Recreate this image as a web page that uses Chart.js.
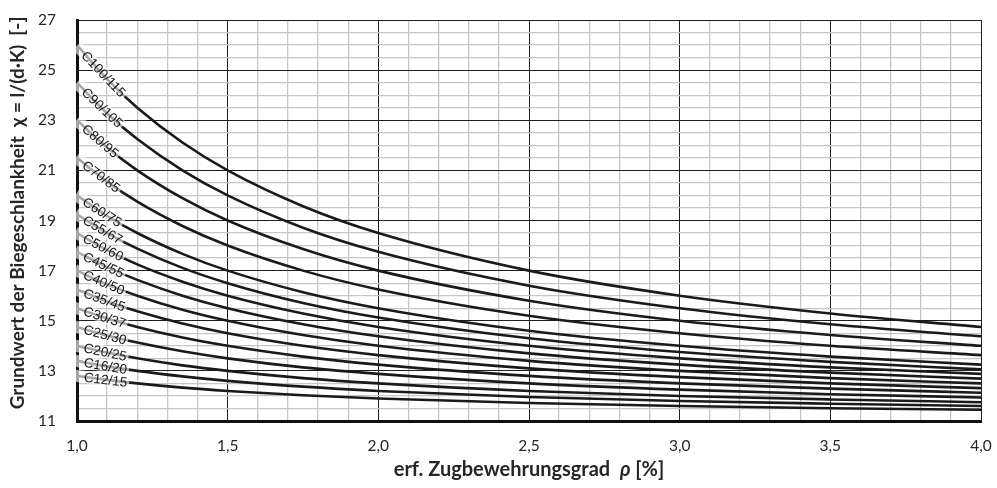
<!DOCTYPE html>
<html>
<head>
<meta charset="utf-8">
<script src="https://cdn.jsdelivr.net/npm/chart.js@4"></script>
<style>
  html, body { margin: 0; padding: 0; background: #fff; }
  #wrap { width: 997px; height: 488px; position: relative; }
</style>
</head>
<body>
<div id="wrap"><canvas id="chart"></canvas></div>
<script>
const RHO = [1.0, 1.1, 1.2, 1.35, 1.5, 1.75, 2.0, 2.5, 3.0, 3.5, 4.0];

// concrete classes, top curve first
const CLASSES = ['C100/115', 'C90/105', 'C80/95', 'C70/85', 'C60/75', 'C55/67', 'C50/60',
                 'C45/55', 'C40/50', 'C35/45', 'C30/37', 'C25/30', 'C20/25', 'C16/20', 'C12/15'];

// basic slenderness chi = l/(d*K) for each class
const C100_115 = [26.00, 24.64, 23.50, 22.11, 21.00, 19.57, 18.50, 17.00, 16.00, 15.29, 14.75];
const C90_105  = [24.50, 23.27, 22.25, 21.00, 20.00, 18.71, 17.75, 16.40, 15.50, 14.86, 14.38];
const C80_95   = [23.00, 21.91, 21.00, 19.89, 19.00, 17.86, 17.00, 15.80, 15.00, 14.43, 14.00];
const C70_85   = [21.50, 20.55, 19.75, 18.78, 18.00, 17.00, 16.25, 15.20, 14.50, 14.00, 13.63];
const C60_75   = [20.00, 19.18, 18.50, 17.67, 17.00, 16.14, 15.50, 14.60, 14.00, 13.57, 13.25];
const C55_67   = [19.25, 18.50, 17.88, 17.11, 16.50, 15.71, 15.13, 14.30, 13.75, 13.36, 13.06];
const C50_60   = [18.50, 17.82, 17.25, 16.56, 16.00, 15.29, 14.75, 14.00, 13.50, 13.14, 12.88];
const C45_55   = [17.75, 17.14, 16.63, 16.00, 15.50, 14.86, 14.38, 13.70, 13.25, 12.93, 12.69];
const C40_50   = [17.00, 16.45, 16.00, 15.44, 15.00, 14.43, 14.00, 13.40, 13.00, 12.71, 12.50];
const C35_45   = [16.25, 15.77, 15.38, 14.89, 14.50, 14.00, 13.63, 13.10, 12.75, 12.50, 12.31];
const C30_37   = [15.50, 15.09, 14.75, 14.33, 14.00, 13.57, 13.25, 12.80, 12.50, 12.29, 12.13];
const C25_30   = [14.75, 14.41, 14.13, 13.78, 13.50, 13.14, 12.88, 12.50, 12.25, 12.07, 11.94];
const C20_25   = [14.00, 13.73, 13.50, 13.22, 13.00, 12.71, 12.50, 12.20, 12.00, 11.86, 11.75];
const C16_20   = [13.40, 13.18, 13.00, 12.78, 12.60, 12.37, 12.20, 11.96, 11.80, 11.69, 11.60];
const C12_15   = [12.80, 12.64, 12.50, 12.33, 12.20, 12.03, 11.90, 11.72, 11.60, 11.51, 11.45];

const VALUES = [C100_115, C90_105, C80_95, C70_85, C60_75, C55_67, C50_60,
                C45_55, C40_50, C35_45, C30_37, C25_30, C20_25, C16_20, C12_15];

// axis ranges and labelled ticks
const X_MIN = 1.0, X_MAX = 4.0, X_STEP = 0.1, X_LABEL_STEP = 0.5;
const Y_MIN = 11, Y_MAX = 27, Y_STEP = 0.5;
const Y_LABELS = [11, 13, 15, 17, 19, 21, 23, 25, 27];

const X_TITLE = ['erf. Zugbewehrungsgrad  ', 'ρ', ' [%]'];
const Y_TITLE = 'Grundwert der Biegeschlankheit  χ = l/(d·K)  [-]';

const FONT = 'Lato, "Open Sans", sans-serif';
const MAJOR = '#1e1e1e';
const MINOR = '#c6c6c6';

function isMultiple(v, step) {
    const q = v / step;
    return Math.abs(q - Math.round(q)) < 1e-6;
}
function isYLabel(v) {
    return Y_LABELS.some(l => Math.abs(l - v) < 1e-6);
}

// linear lookup along a dataset, only used to place the curve labels
function valueAt(points, r) {
    for (let i = 0; i < points.length - 1; i++) {
        const a = points[i], b = points[i + 1];
        if (r >= a.x && r <= b.x) {
            return a.y + (b.y - a.y) * (r - a.x) / (b.x - a.x);
        }
    }
    return points[points.length - 1].y;
}

// class names written along each curve near rho = 1.0
const curveLabels = {
    id: 'curveLabels',
    afterDatasetsDraw(chart) {
        const { ctx, chartArea } = chart;
        const xs = chart.scales.x, ys = chart.scales.y;
        ctx.save();
        ctx.font = '13.5px "Liberation Sans", Arial, sans-serif';
        chart.data.datasets.forEach(ds => {
            const pts = ds.data;
            const w = ctx.measureText(ds.label).width;
            const x0 = chartArea.left + 7;
            const y0 = ys.getPixelForValue(valueAt(pts, xs.getValueForPixel(x0)));
            let x1 = x0, y1 = y0;
            for (let px = x0; px < chartArea.right; px += 0.5) {
                const py = ys.getPixelForValue(valueAt(pts, xs.getValueForPixel(px)));
                x1 = px; y1 = py;
                if (Math.hypot(px - x0, py - y0) >= w) break;
            }
            const ang = Math.atan2(y1 - y0, x1 - x0);
            ctx.save();
            ctx.translate(x0, y0);
            ctx.rotate(ang);
            ctx.fillStyle = 'rgba(255,255,255,0.62)';
            ctx.fillRect(-10, -6, w + 12, 12);
            ctx.fillStyle = '#161616';
            ctx.textBaseline = 'middle';
            ctx.textAlign = 'left';
            ctx.fillText(ds.label, 0, 1);
            ctx.restore();
        });
        ctx.restore();
    }
};

// axis titles (the rho is set in italics)
const axisTitles = {
    id: 'axisTitles',
    afterDraw(chart) {
        const { ctx, chartArea } = chart;
        ctx.save();
        ctx.fillStyle = '#262626';
        ctx.textBaseline = 'middle';

        // x title
        const fonts = ['bold 20px ' + FONT, 'italic bold 20px ' + FONT, 'bold 20px ' + FONT];
        let total = 0;
        const widths = X_TITLE.map((t, i) => { ctx.font = fonts[i]; const m = ctx.measureText(t).width; total += m; return m; });
        let x = (chartArea.left + chartArea.right) / 2 - total / 2;
        X_TITLE.forEach((t, i) => {
            ctx.font = fonts[i];
            ctx.textAlign = 'left';
            ctx.fillText(t, x, 470);
            x += widths[i];
        });

        // y title
        ctx.translate(18, 213);
        ctx.rotate(-Math.PI / 2);
        ctx.font = 'bold 19px ' + FONT;
        ctx.textAlign = 'center';
        ctx.fillText(Y_TITLE, 0, 0);
        ctx.restore();
    }
};

const datasets = CLASSES.map((name, i) => ({
    label: name,
    data: RHO.map((r, j) => ({ x: r, y: VALUES[i][j] })),
    borderColor: '#1a1a1a',
    borderWidth: 2.6,
    pointRadius: 0,
    fill: false,
    cubicInterpolationMode: 'monotone'
}));

new Chart(document.getElementById('chart'), {
    type: 'line',
    data: { datasets },
    options: {
        responsive: true,
        maintainAspectRatio: false,
        animation: false,
        layout: { padding: { top: 20, right: 16, left: 0, bottom: 0 } },
        plugins: {
            legend: { display: false },
            tooltip: { enabled: false }
        },
        scales: {
            x: {
                type: 'linear',
                min: X_MIN,
                max: X_MAX,
                afterFit: s => { s.height = 67; s.paddingLeft = 0; s.paddingRight = 0; },
                border: { display: true, color: '#111', width: 3 },
                grid: {
                    drawTicks: false,
                    color: c => isMultiple(c.tick.value, X_LABEL_STEP) ? MAJOR : MINOR,
                    lineWidth: c => isMultiple(c.tick.value, X_LABEL_STEP) ? 1 : 1.3
                },
                ticks: {
                    stepSize: X_STEP,
                    autoSkip: false,
                    maxRotation: 0,
                    padding: 16,
                    color: '#262626',
                    font: { family: FONT, size: 15.5 },
                    callback: v => isMultiple(v, X_LABEL_STEP) ? v.toFixed(1).replace('.', ',') : ''
                }
            },
            y: {
                type: 'linear',
                min: Y_MIN,
                max: Y_MAX,
                afterFit: s => { s.width = 77; s.paddingTop = 0; s.paddingBottom = 0; },
                border: { display: true, color: '#111', width: 3 },
                grid: {
                    drawTicks: false,
                    color: c => isYLabel(c.tick.value) ? MAJOR : MINOR,
                    lineWidth: c => isYLabel(c.tick.value) ? 1 : 1.3
                },
                ticks: {
                    stepSize: Y_STEP,
                    autoSkip: false,
                    padding: 21,
                    color: '#262626',
                    font: { family: FONT, size: 15.5 },
                    callback: v => isYLabel(v) ? String(v) : ''
                }
            }
        }
    },
    plugins: [curveLabels, axisTitles]
});
</script>
</body>
</html>
